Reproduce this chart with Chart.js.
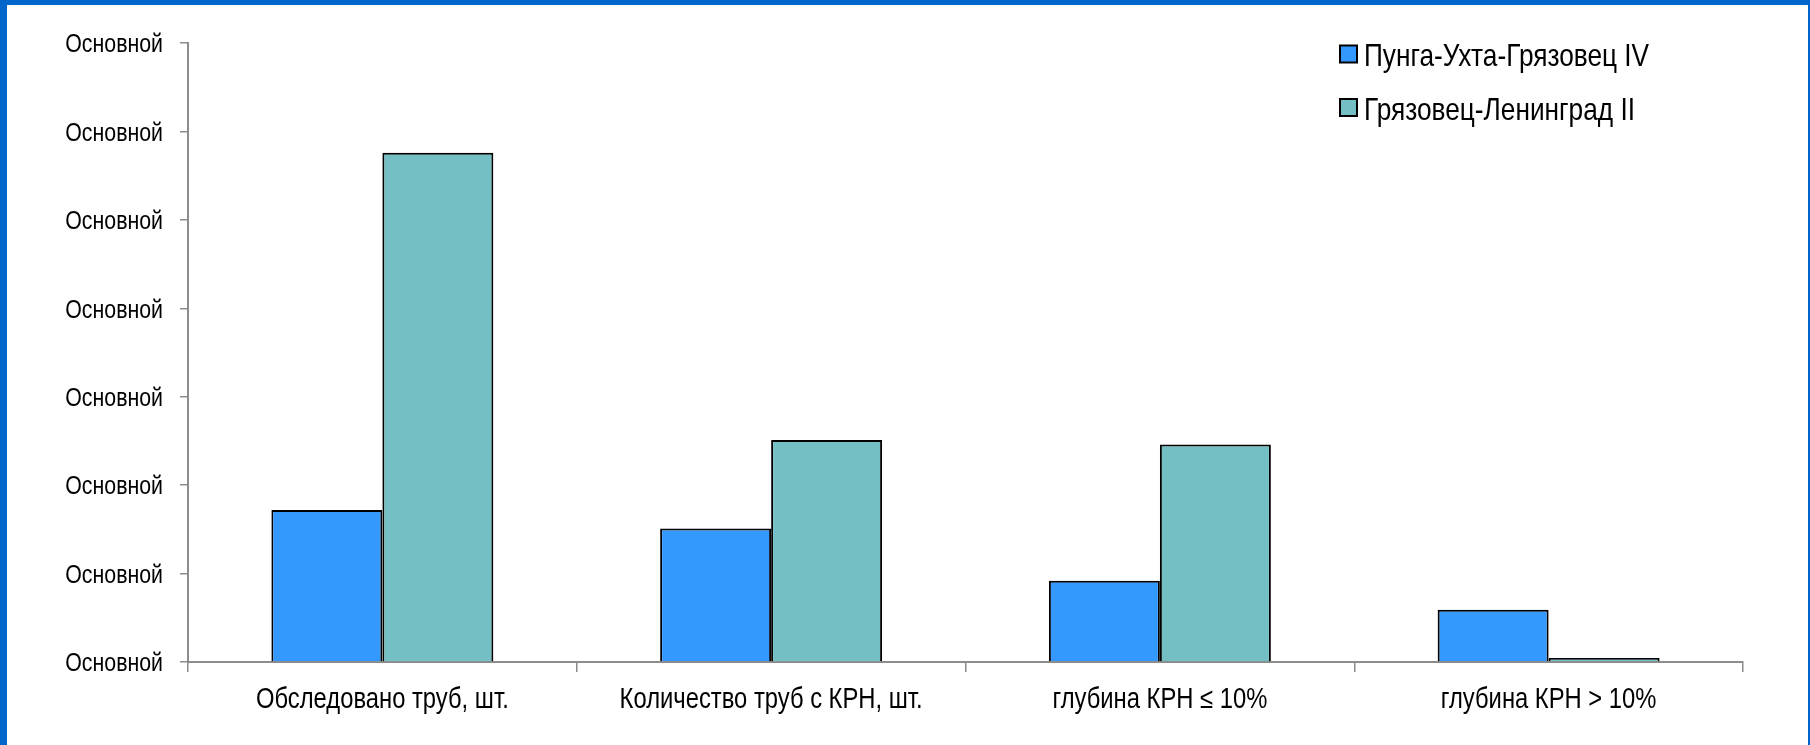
<!DOCTYPE html>
<html>
<head>
<meta charset="utf-8">
<script src="https://cdn.jsdelivr.net/npm/chart.js@4/dist/chart.umd.min.js"></script>
<style>
  html, body { margin: 0; padding: 0; background: #ffffff; }
  #wrap { position: relative; width: 1810px; height: 745px; overflow: hidden; }
  #chart { position: absolute; left: 0; top: 0; }
  #frame {
    position: absolute; left: 0; top: 0; width: 1810px; height: 745px;
    box-sizing: border-box; pointer-events: none;
    border-top: 5px solid #0066CC; border-left: 7px solid #0066CC; border-right: 2px solid #0066CC;
  }
</style>
</head>
<body>
<div id="wrap">
  <canvas id="chart" width="1810" height="745"></canvas>
  <div id="frame"></div>
</div>
<script>
// Categories along the x axis
const categories = [
  'Обследовано труб, шт.',
  'Количество труб с КРН, шт.',
  'глубина КРН ≤ 10%',
  'глубина КРН > 10%'
];

// Series names
const seriesNames = ['Пунга-Ухта-Грязовец IV', 'Грязовец-Ленинград II'];

// Series values
const pungaValues = [172, 151, 92, 59];
const gryazovetsValues = [576, 251, 246, 4.5];

// Y tick labels (bottom to top)
const yTickLabels = ['Основной', 'Основной', 'Основной', 'Основной', 'Основной', 'Основной', 'Основной', 'Основной'];
const yMax = 700;
const yStep = 100;

const FONT = '"Liberation Sans", Arial, sans-serif';
// Horizontal squeeze that gives Liberation Sans the proportions of a narrow face
const NARROW = 0.82;

function narrowText(ctx, text, x, y, size, align) {
  ctx.save();
  ctx.font = size + 'px ' + FONT;
  ctx.textBaseline = 'alphabetic';
  ctx.textAlign = align;
  ctx.translate(x, y);
  ctx.scale(NARROW, 1);
  ctx.fillStyle = '#000000';
  ctx.fillText(text, 0, 0);
  ctx.restore();
}

// Axis labels in the narrow face, placed on the scales' own tick positions
const narrowLabels = {
  id: 'narrowLabels',
  afterDraw(chart) {
    const ctx = chart.ctx;
    const xs = chart.scales.x;
    const ys = chart.scales.y;
    xs.ticks.forEach((t, i) => {
      narrowText(ctx, chart.data.labels[i], xs.getPixelForTick(i), xs.top + 46, 29, 'center');
    });
    ys.ticks.forEach((t, i) => {
      narrowText(ctx, yTickLabels[i], ys.right - 25, ys.getPixelForValue(t.value) + 9.3, 26, 'right');
    });
  }
};

// Legend drawn in the upper right corner, two rows
const cornerLegend = {
  id: 'cornerLegend',
  afterDraw(chart) {
    const ctx = chart.ctx;
    chart.data.datasets.forEach((ds, i) => {
      const cy = 54 + i * 53.5;
      ctx.save();
      ctx.fillStyle = ds.backgroundColor;
      ctx.fillRect(1340, cy - 8.5, 17, 17);
      ctx.lineWidth = 2;
      ctx.strokeStyle = '#000000';
      ctx.strokeRect(1340, cy - 8.5, 17, 17);
      ctx.restore();
      narrowText(ctx, ds.label, 1364, cy + 12, 32, 'left');
    });
  }
};

new Chart(document.getElementById('chart'), {
  type: 'bar',
  data: {
    labels: categories,
    datasets: [
      {
        label: seriesNames[0],
        data: pungaValues,
        backgroundColor: '#3399FF',
        borderColor: '#000000',
        borderWidth: 2,
        categoryPercentage: 0.571,
        barPercentage: 1.0
      },
      {
        label: seriesNames[1],
        data: gryazovetsValues,
        backgroundColor: '#74BFC4',
        borderColor: '#000000',
        borderWidth: 2,
        categoryPercentage: 0.571,
        barPercentage: 1.0
      }
    ]
  },
  options: {
    responsive: false,
    animation: false,
    layout: { padding: { left: 0, right: 67, top: 43, bottom: 0 } },
    plugins: {
      legend: { display: false },
      tooltip: { enabled: false }
    },
    scales: {
      x: {
        offset: true,
        grid: {
          display: true,
          offset: true,
          drawOnChartArea: false,
          drawTicks: true,
          tickLength: 10,
          color: '#8c8c8c',
          lineWidth: 1.5
        },
        border: { display: true, color: '#8c8c8c', width: 2 },
        ticks: {
          color: 'rgba(0,0,0,0)',
          font: { family: FONT, size: 24 },
          padding: 9,
          maxRotation: 0,
          autoSkip: false
        },
        afterFit(scale) { scale.height = 83; }
      },
      y: {
        min: 0,
        max: yMax,
        grid: {
          display: true,
          drawOnChartArea: false,
          drawTicks: true,
          tickLength: 8,
          color: '#8c8c8c',
          lineWidth: 1.5
        },
        border: { display: true, color: '#8c8c8c', width: 2 },
        ticks: {
          stepSize: yStep,
          color: 'rgba(0,0,0,0)',
          font: { family: FONT, size: 22 },
          padding: 17,
          callback: (value, index) => yTickLabels[index]
        },
        afterFit(scale) { scale.width = 188; }
      }
    }
  },
  plugins: [narrowLabels, cornerLegend]
});
</script>
</body>
</html>
